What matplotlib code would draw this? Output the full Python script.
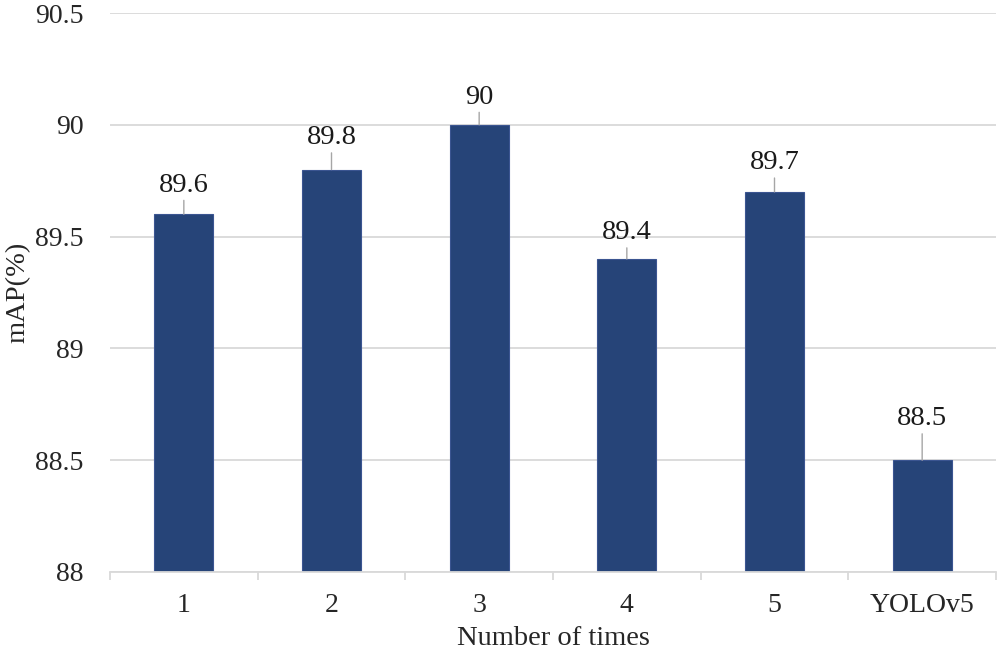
import numpy as np
import matplotlib
matplotlib.use('Agg')
import matplotlib.pyplot as plt

plt.rcParams['font.family'] = ['Liberation Serif', 'DejaVu Serif']

categories = ['1', '2', '3', '4', '5', 'YOLOv5']
mAP = [89.6, 89.8, 90.0, 89.4, 89.7, 88.5]
value_labels = ['89.6', '89.8', '90', '89.4', '89.7', '88.5']
yticks = [88, 88.5, 89, 89.5, 90, 90.5]
ytick_labels = ['88', '88.5', '89', '89.5', '90', '90.5']
label_gap = [12, 14, 11, 10, 12, 21]  # points between bar top and label

fig = plt.figure(figsize=(10, 6.58), dpi=100)
ax = fig.add_axes([0.11, 0.1307, 0.886, 0.8495])

x = np.arange(len(categories))
ax.bar(x, mAP, width=0.4, color='#264478', edgecolor='#3b5591', linewidth=0.8, zorder=3)

ax.set_ylim(88, 90.5)
ax.set_xlim(-0.5, len(categories) - 0.5)
ax.set_yticks(yticks)
ax.set_yticklabels(ytick_labels)
ax.set_xticks(x)
ax.set_xticklabels(categories)
ax.set_xticks(np.arange(-0.5, len(categories), 1.0), minor=True)

ax.grid(axis='y', color='#d9d9d9', linewidth=1.3, zorder=0)
for s in ['top', 'right', 'left']:
    ax.spines[s].set_visible(False)
ax.spines['bottom'].set_color('#d9d9d9')
ax.spines['bottom'].set_linewidth(1.3)
ax.spines['bottom'].set_zorder(4)

ax.tick_params(axis='y', length=0, pad=19, labelsize=20, labelcolor='#262626')
ax.tick_params(axis='x', which='major', length=0, pad=15, labelsize=20, labelcolor='#262626')
ax.tick_params(axis='x', which='minor', length=6, width=1.3, color='#d9d9d9')

for xi, v, lab, g in zip(x, mAP, value_labels, label_gap):
    ax.annotate(lab, xy=(xi, v), xytext=(0, g), textcoords='offset points',
                ha='center', va='bottom', fontsize=20.5, color='#1a1a1a',
                arrowprops=dict(arrowstyle='-', color='#a6a6a6', lw=1,
                                relpos=(0.5, 0), shrinkA=0, shrinkB=0))

ax.set_xlabel('Number of times', fontsize=20.5, color='#262626', labelpad=6)
ax.set_ylabel('mAP(%)', fontsize=20.5, color='#262626', labelpad=3)

fig.savefig('out.png', dpi=100)
